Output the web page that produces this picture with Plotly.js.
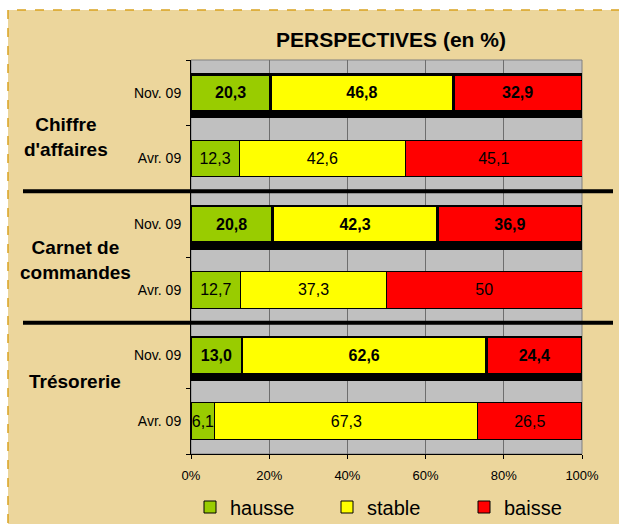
<!DOCTYPE html>
<html>
<head>
<meta charset="utf-8">
<script src="https://cdn.plot.ly/plotly-3.0.1.min.js"></script>
<style>html,body{margin:0;padding:0;background:#fff;}#chart{width:619px;height:524px;}</style>
</head>
<body>
<div id="chart"></div>
<script>
// ---- data ----
const groups = ["Chiffre d'affaires", "Carnet de commandes", "Trésorerie"];
const groupLabels = ["Chiffre<br>d'affaires", "Carnet de<br>commandes", "Trésorerie"];
const periods = ["Nov. 09", "Avr. 09"];
const seriesNames = ["hausse", "stable", "baisse"];

const hausseNov = [20.3, 20.8, 13.0];
const stableNov = [46.8, 42.3, 62.6];
const baisseNov = [32.9, 36.9, 24.4];
const hausseAvr = [12.3, 12.7, 6.1];
const stableAvr = [42.6, 37.3, 67.3];
const baisseAvr = [45.1, 50, 26.5];

const hausseNovTxt = ["20,3", "20,8", "13,0"];
const stableNovTxt = ["46,8", "42,3", "62,6"];
const baisseNovTxt = ["32,9", "36,9", "24,4"];
const hausseAvrTxt = ["12,3", "12,7", "6,1"];
const stableAvrTxt = ["42,6", "37,3", "67,3"];
const baisseAvrTxt = ["45,1", "50", "26,5"];

const xTickVals = [0, 20, 40, 60, 80, 100];
const xTickText = ["0%", "20%", "40%", "60%", "80%", "100%"];

// ---- build ----
const FONT = "Liberation Sans, Arial, sans-serif";
const colors = ["#99CC00", "#FFFF00", "#FF0000"];
const novCats = groups.map(g => g + " | " + periods[0]);
const avrCats = groups.map(g => g + " | " + periods[1]);
const allCats = [];
groups.forEach((g, i) => { allCats.push(novCats[i]); allCats.push(avrCats[i]); });
const tickText = allCats.map(c => c.split(" | ")[1]);

const BW = 0.56;
const novVals = [hausseNov, stableNov, baisseNov];
const avrVals = [hausseAvr, stableAvr, baisseAvr];
const novTxt = [hausseNovTxt, stableNovTxt, baisseNovTxt];
const avrTxt = [hausseAvrTxt, stableAvrTxt, baisseAvrTxt];

const traces = [];
// shadow behind Nov bars (on main y axis, drawn beneath overlay axis)
const totalsNov = hausseNov.map((v, i) => v + stableNov[i] + baisseNov[i]);
traces.push({
  type: "bar", orientation: "h", x: totalsNov, y: novCats, base: 0,
  width: BW, offset: -BW / 2 + 0.085,
  marker: {color: "#000", line: {color: "#000", width: 3}},
  showlegend: false, hoverinfo: "skip", xaxis: "x", yaxis: "y"
});
for (let s = 0; s < 3; s++) {
  traces.push({
    type: "bar", orientation: "h", name: seriesNames[s],
    x: novVals[s], y: novCats, text: novTxt[s],
    textposition: "inside", insidetextanchor: "middle", textangle: 0, constraintext: "none",
    textfont: {family: FONT, size: 16, color: "#000", weight: "bold"},
    width: BW,
    marker: {color: colors[s], line: {color: "#000", width: 2.5}},
    showlegend: false, legendgroup: seriesNames[s], xaxis: "x", yaxis: "y2"
  });
}
for (let s = 0; s < 3; s++) {
  traces.push({
    type: "bar", orientation: "h", name: seriesNames[s],
    x: avrVals[s], y: avrCats, text: avrTxt[s],
    textposition: "inside", insidetextanchor: "middle", textangle: 0, constraintext: "none",
    textfont: {family: FONT, size: 16, color: "#000"},
    width: BW,
    marker: {color: colors[s], line: {color: "#000", width: 1}},
    showlegend: true, legendgroup: seriesNames[s], xaxis: "x", yaxis: "y2"
  });
}

const L = 191, R = 37, T = 60, B = 70, W = 619, H = 524;
const pw = W - L - R, ph = H - T - B;
const px = v => (v - L) / pw;
const py = v => (H - B - v) / ph;

const shapes = [
  {type: "rect", xref: "paper", yref: "paper", x0: px(8), x1: px(660), y0: py(560), y1: py(10),
   fillcolor: "#ECD69C", line: {color: "#D9A320", width: 1.5, dash: "dash"}, layer: "below"},
  {type: "rect", xref: "paper", yref: "paper", x0: 0, x1: 1, y0: 0, y1: 1,
   fillcolor: "#C0C0C0", line: {color: "#808080", width: 1}, layer: "below"},
  {type: "line", xref: "paper", yref: "y", x0: px(23), x1: px(613), y0: 1.5, y1: 1.5,
   line: {color: "#000", width: 4}},
  {type: "line", xref: "paper", yref: "y", x0: px(23), x1: px(613), y0: 3.5, y1: 3.5,
   line: {color: "#000", width: 4}}
];

const annYs = [0.665, 2.54, 4.39];
const annXs = [66, 75, 75];
const annotations = groupLabels.map((t, i) => ({
  text: "<b>" + t + "</b>", xref: "paper", yref: "y", x: px(annXs[i]), y: annYs[i],
  xanchor: "center", yanchor: "middle", showarrow: false, align: "center",
  font: {family: FONT, size: 19, color: "#000"}
}));

const yCommon = {
  type: "category", categoryorder: "array", categoryarray: allCats,
  range: [allCats.length - 0.5, -0.5]
};

const layout = {
  width: W, height: H,
  margin: {l: L, r: R, t: T, b: B, autoexpand: false},
  paper_bgcolor: "rgba(0,0,0,0)", plot_bgcolor: "rgba(0,0,0,0)",
  barmode: "stack", showlegend: true,
  font: {family: FONT, color: "#000"},
  title: {text: "<b>PERSPECTIVES (en %)</b>", font: {family: FONT, size: 21, color: "#000"},
          xref: "container", yref: "container", x: 391 / W, y: 1 - 40 / H, xanchor: "center", yanchor: "middle"},
  xaxis: {range: [0, 100], tickvals: xTickVals, ticktext: xTickText, showgrid: true,
          gridcolor: "#6E6E6E", gridwidth: 1, zeroline: false, showline: true, linecolor: "#000", linewidth: 1,
          ticks: "outside", ticklen: 4, tickcolor: "#000", tickfont: {family: FONT, size: 13, color: "#000"},
          ticklabelstandoff: 5, fixedrange: true, automargin: false},
  yaxis: Object.assign({}, yCommon, {tickmode: "array", tickvals: allCats, ticktext: tickText,
          tickson: "boundaries", ticks: "outside", ticklen: 4, tickcolor: "#000",
          showline: true, linecolor: "#000", linewidth: 1, showgrid: false, zeroline: false, automargin: false,
          tickfont: {family: FONT, size: 14, color: "#000"}, ticklabelstandoff: 6}),
  yaxis2: Object.assign({}, yCommon, {overlaying: "y", visible: false, showgrid: false}),
  legend: {orientation: "h", xref: "paper", yref: "paper", x: px(190), y: py(507),
           xanchor: "left", yanchor: "middle", entrywidth: 92, entrywidthmode: "pixels",
           font: {family: FONT, size: 20, color: "#000"}, bgcolor: "rgba(0,0,0,0)", traceorder: "normal"},
  shapes: shapes, annotations: annotations
};

Plotly.newPlot("chart", traces, layout, {displayModeBar: false, staticPlot: true});
</script>
</body>
</html>
